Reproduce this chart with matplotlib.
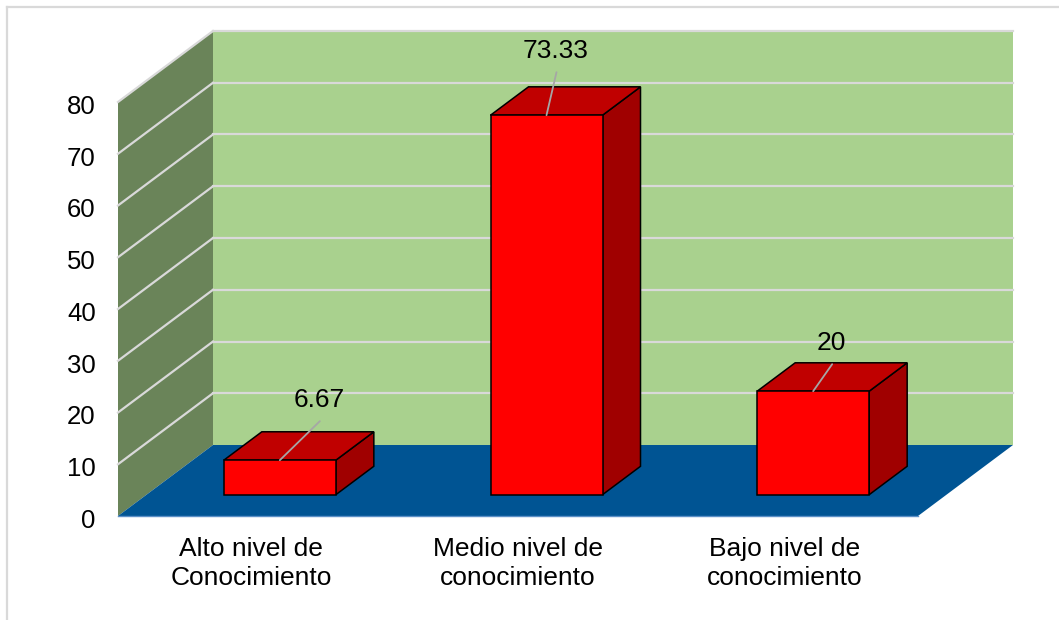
import matplotlib
matplotlib.use("Agg")
import matplotlib.pyplot as plt
import matplotlib.transforms as mtransforms
from matplotlib.patches import Polygon
from matplotlib.lines import Line2D

# ---- data ----
categories = ["Alto nivel de\nConocimiento", "Medio nivel de\nconocimiento", "Bajo nivel de\nconocimiento"]
values = [6.67, 73.33, 20]
value_labels = ["6.67", "73.33", "20"]
y_ticks = [0, 10, 20, 30, 40, 50, 60, 70, 80]

# ---- style / geometry ----
W, H, DPI = 1059, 620, 100
plt.rcParams['font.family'] = ['Liberation Sans', 'DejaVu Sans']
FS = 19

fig = plt.figure(figsize=(W / DPI, H / DPI), dpi=DPI)
fig.patch.set_facecolor("white")

# front plane of the 3D box in pixels
left_px, right_px, base_px, top_px = 118, 918, 516, 102
ax = fig.add_axes([left_px / W, (H - base_px) / H, (right_px - left_px) / W, (base_px - top_px) / H])
ax.set_xlim(-0.5, len(categories) - 0.5)
ax.set_ylim(0, 80)
ax.patch.set_visible(False)
for s in ax.spines.values():
    s.set_visible(False)

# depth vector in data units (full depth of the box)
DX = 95 / (right_px - left_px) * len(categories)
DY = 71 / (base_px - top_px) * 80

x0, x1 = -0.5, len(categories) - 0.5
ymax = 80

def P(x, y, d):
    return (x + d * DX, y + d * DY)

# walls
back = Polygon([P(x0, 0, 1), P(x1, 0, 1), P(x1, ymax, 1), P(x0, ymax, 1)],
               closed=True, facecolor="#A9D18E", edgecolor="none", clip_on=False, zorder=1)
side = Polygon([P(x0, 0, 0), P(x0, 0, 1), P(x0, ymax, 1), P(x0, ymax, 0)],
               closed=True, facecolor="#6A8459", edgecolor="none", clip_on=False, zorder=1)
ax.add_patch(back)
ax.add_patch(side)

# gridlines
for v in y_ticks:
    if v == 0:
        continue
    a, b = P(x0, v, 1), P(x1, v, 1)
    ax.plot([a[0], b[0]], [a[1], b[1]], color="#D9D9D9", lw=1.6, clip_on=False, zorder=2)
    a, b = P(x0, v, 0), P(x0, v, 1)
    ax.plot([a[0], b[0]], [a[1], b[1]], color="#D9D9D9", lw=1.6, clip_on=False, zorder=2)

# floor
floor = Polygon([P(x0, 0, 0), P(x1, 0, 0), P(x1, 0, 1), P(x0, 0, 1)],
                closed=True, facecolor="#005493", edgecolor="none", clip_on=False, zorder=3)
ax.add_patch(floor)
ax.plot([x0, x1], [0, 0], color="#5B8FC7", lw=1.0, clip_on=False, zorder=3)

# bars
hw, d0, d1 = 0.21, 0.3, 0.7
for i, v in enumerate(values):
    front = [P(i - hw, 0, d0), P(i + hw, 0, d0), P(i + hw, v, d0), P(i - hw, v, d0)]
    top = [P(i - hw, v, d0), P(i + hw, v, d0), P(i + hw, v, d1), P(i - hw, v, d1)]
    rside = [P(i + hw, 0, d0), P(i + hw, 0, d1), P(i + hw, v, d1), P(i + hw, v, d0)]
    for pts, col in ((rside, "#A00000"), (top, "#C00000"), (front, "#FF0000")):
        ax.add_patch(Polygon(pts, closed=True, facecolor=col, edgecolor="black",
                             lw=1.1, joinstyle="miter", clip_on=False, zorder=5))

# data labels with leader lines (offsets in pixels)
leader = [(40, 39), (10, 43), (19, 27)]
for i, v in enumerate(values):
    start = P(i, v, d0)
    dx, dy = leader[i]
    ax.annotate("", xy=start, xytext=(dx, dy), textcoords="offset pixels",
                arrowprops=dict(arrowstyle="-", color="#A6A6A6", lw=1.3, shrinkA=0, shrinkB=0),
                annotation_clip=False, zorder=6)
    ax.annotate(value_labels[i], xy=start, xytext=(dx - 1, dy + 9), textcoords="offset pixels",
                ha="center", va="bottom", fontsize=FS, color="#000000",
                annotation_clip=False, zorder=7)

# axes ticks
ax.set_yticks(y_ticks)
ax.set_yticklabels([str(t) for t in y_ticks], fontsize=FS - 0.5)
ax.set_xticks(range(len(categories)))
ax.set_xticklabels(categories, fontsize=FS, linespacing=1.27)
ax.tick_params(axis="y", length=0, pad=16)
ax.tick_params(axis="x", length=0, pad=15)
shift = mtransforms.ScaledTranslation(0, -2.5 / DPI, fig.dpi_scale_trans)
for lab in ax.get_yticklabels():
    lab.set_transform(lab.get_transform() + shift)

# chart border (top and left visible)
fig.add_artist(Line2D([7 / W, 1.0], [1 - 7 / H, 1 - 7 / H], transform=fig.transFigure,
                      color="#D9D9D9", lw=1.6))
fig.add_artist(Line2D([7 / W, 7 / W], [0, 1 - 7 / H], transform=fig.transFigure,
                      color="#D9D9D9", lw=1.6))

fig.savefig("out.png", dpi=DPI, facecolor="white")
